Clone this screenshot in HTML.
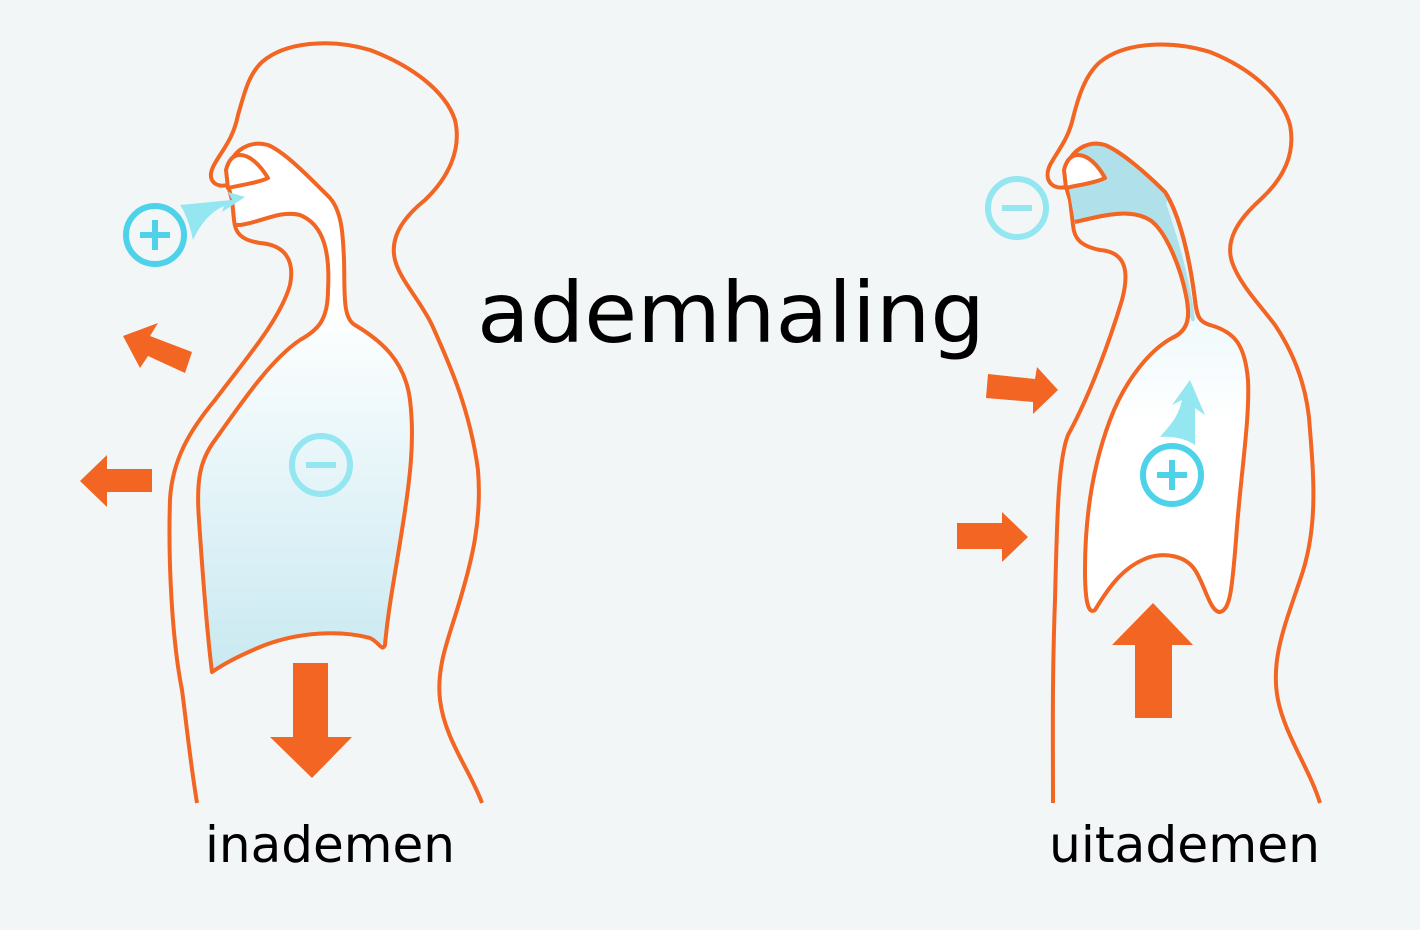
<!DOCTYPE html>
<html><head><style>
body{margin:0;background:#f2f6f7;}
svg{display:block}
text{font-family:"DejaVu Sans","Liberation Sans",sans-serif;fill:#000}
</style></head><body>
<svg width="1420" height="930" viewBox="0 0 1420 930">
<defs>
<linearGradient id="g1" x1="0" y1="0" x2="0" y2="1"><stop offset="0.3" stop-color="#ffffff"/><stop offset="1" stop-color="#c9e9f1"/></linearGradient>
<linearGradient id="g2" x1="0" y1="0" x2="0" y2="1"><stop offset="0" stop-color="#d6f0f6"/><stop offset="0.6" stop-color="#ffffff"/></linearGradient>
</defs>
<rect width="1420" height="930" fill="#f2f6f7"/>
<g fill="none" stroke="#f26522" stroke-width="4" stroke-linejoin="round">
<path d="M197,803 C190,760 186,720 182,690 C172,640 168,560 170,500 C172,460 190,430 215,400 C245,360 280,320 290,285 C295,260 285,245 260,243 C240,240 235,232 234,220 L232,200 L228,185 C215,188 206,180 214,165 C222,150 233,140 238,115 C244,95 248,75 262,62 C285,42 330,38 370,50 C410,65 445,90 455,120 C462,150 448,178 425,200 C400,220 390,240 395,260 C400,280 420,300 432,325 C450,365 470,410 478,470 C482,520 472,560 460,600 C450,635 436,665 440,700 C445,740 470,770 482,803"/>
<path d="M1053,803 C1053,740 1052,680 1055,600 C1057,520 1058,460 1068,435 C1090,395 1110,340 1122,300 C1130,270 1125,252 1100,250 C1080,246 1074,238 1073,225 L1070,200 L1066,187 C1052,190 1043,180 1050,165 C1058,150 1068,140 1073,118 C1078,98 1085,75 1100,62 C1125,42 1170,40 1210,52 C1250,68 1282,95 1290,125 C1296,155 1282,180 1260,200 C1238,220 1225,240 1232,262 C1240,285 1260,305 1275,325 C1295,355 1308,390 1310,430 C1314,480 1318,530 1300,580 C1285,625 1270,660 1278,700 C1285,735 1310,770 1320,803"/>
<path d="M1066,170 C1070,150 1088,140 1105,145 C1122,152 1148,175 1165,192 C1180,215 1190,260 1195,300 C1197,318 1200,322 1210,325 C1235,332 1245,345 1248,380 C1250,420 1240,480 1236,540 C1232,590 1230,610 1220,612 C1210,612 1205,585 1195,570 C1185,555 1165,553 1150,557 C1125,565 1110,585 1095,610 C1088,615 1085,600 1085,570 C1085,510 1095,460 1110,420 C1125,380 1150,350 1172,338 C1190,330 1190,315 1186,295 C1180,265 1165,230 1150,220 C1130,208 1105,215 1075,222" fill="url(#g2)"/>
</g>
<path d="M228,172 C232,150 250,140 268,145 C285,152 310,178 330,198 C342,212 343,235 344,260 C345,290 342,318 355,325 C380,340 405,360 410,400 C415,440 410,480 402,530 C395,575 388,610 385,645 C380,643 370,638 370,638 C340,630 300,632 265,645 C240,655 222,665 212,672 C208,640 203,580 199,520 C196,480 200,460 215,440 C240,405 270,360 300,340 C318,330 328,320 328,290 C330,255 325,225 300,215 C280,210 262,222 240,225 L232,190 Z" fill="url(#g1)"/>
<g fill="none" stroke="#f26522" stroke-width="4" stroke-linejoin="round">
<path d="M228,170 C232,150 250,140 268,145 C285,152 310,178 330,198 C342,212 343,235 344,260 C345,290 342,318 355,325 C380,340 405,360 410,400 C415,440 410,480 402,530 C395,575 388,610 385,645 C382,652 380,643 370,638 C340,630 300,632 265,645 C240,655 222,665 212,672 C208,640 203,580 199,520 C196,480 200,460 215,440 C240,405 270,360 300,340 C318,330 328,320 328,290 C330,255 325,225 300,215 C280,210 262,222 240,225 L235,225"/>
<path d="M226,170 L228,188 C240,185 258,183 268,178 C260,165 250,155 240,155 C232,155 228,162 226,170 Z" fill="#fff"/>
<path d="M1066,172 C1070,150 1088,140 1105,145 C1122,152 1148,175 1165,192 C1172,205 1160,215 1150,218 C1130,208 1105,215 1075,222 Z" fill="#b0e0ea" stroke="none"/>
<path d="M1150,218 C1165,230 1180,265 1186,295 C1190,315 1190,325 1195,320 C1192,290 1182,250 1165,200 Z" fill="#b0e0ea" stroke="none"/>
<path d="M1066,170 C1070,150 1088,140 1105,145 C1122,152 1148,175 1165,192 C1180,215 1190,260 1195,300 C1197,318 1200,322 1210,325 M1172,338 C1190,330 1190,315 1186,295 C1180,265 1165,230 1150,220 C1130,208 1105,215 1075,222"/>
<path d="M1064,170 L1066,188 C1078,185 1095,183 1105,178 C1098,165 1088,155 1078,155 C1070,155 1066,162 1064,170 Z" fill="#fff"/>
</g>
<path d="M180,205 L232,200 L228,192 L245,197 L222,212 L224,206 C210,212 200,225 193,240 C190,225 185,212 180,205 Z" fill="#94e6f1"/>
<path d="M1160,437 C1170,425 1178,418 1182,400 L1172,405 L1190,380 L1205,415 L1195,408 L1195,445 C1185,438 1170,436 1160,437 Z" fill="#94e6f1"/>
<g fill="none" stroke-width="6">
<circle cx="155" cy="235" r="29" stroke="#4dd2ea"/>
<circle cx="321" cy="465" r="29" stroke="#94e6f1"/>
<circle cx="1017" cy="208" r="29" stroke="#94e6f1"/>
<circle cx="1172" cy="475" r="29" stroke="#4dd2ea"/>
</g>
<g fill="#4dd2ea">
<rect x="140" y="232" width="30" height="6"/><rect x="152" y="220" width="6" height="30"/>
<rect x="1157" y="472" width="30" height="6"/><rect x="1169" y="460" width="6" height="30"/>
</g>
<g fill="#94e6f1"><rect x="306" y="462" width="30" height="6"/><rect x="1002" y="205" width="30" height="6"/></g>
<g fill="#f26522">
<polygon points="192,352 185,373 148,356 140,368 123,336 158,323 150,336"/>
<polygon points="152,469 152,492 107,492 107,507 80,481 107,455 107,469"/>
<polygon points="293,663 328,663 328,737 352,737 312,778 270,737 293,737"/>
<polygon points="988,374 1035,379 1037,367 1058,390 1033,414 1033,402 986,398"/>
<polygon points="957,523 1002,523 1002,512 1028,537 1002,562 1002,549 957,549"/>
<polygon points="1135,718 1172,718 1172,645 1193,645 1153,603 1112,645 1135,645"/>
</g>
<text x="477" y="342" font-size="84" textLength="508" lengthAdjust="spacingAndGlyphs">ademhaling</text>
<text x="205" y="862" font-size="50" textLength="250" lengthAdjust="spacingAndGlyphs">inademen</text>
<text x="1049" y="862" font-size="50" textLength="271" lengthAdjust="spacingAndGlyphs">uitademen</text>
</svg>
</body></html>
